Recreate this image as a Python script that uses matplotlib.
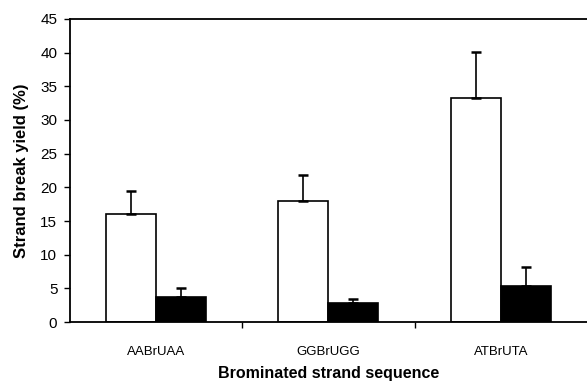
import numpy as np
import matplotlib.pyplot as plt

plt.rcParams['font.family'] = ['Liberation Sans', 'DejaVu Sans']

sequences = ['AABrUAA', 'GGBrUGG', 'ATBrUTA']
white_yield = [16.0, 18.0, 33.3]
white_err = [3.5, 3.8, 6.8]
black_yield = [3.7, 2.8, 5.3]
black_err = [1.3, 0.7, 2.9]
y_ticks = [0, 5, 10, 15, 20, 25, 30, 35, 40, 45]

fig = plt.figure(figsize=(5.87, 3.84), dpi=100)
ax = fig.add_axes([0.119, 0.161, 0.881, 0.79])

x = np.arange(len(sequences))
width = 0.29
zeros = [0] * len(sequences)

ax.bar(x - width / 2, white_yield, width, color='white', edgecolor='black', linewidth=1.2,
       yerr=[zeros, white_err], error_kw=dict(ecolor='black', elinewidth=1.2, capsize=3.5, capthick=1.8))
ax.bar(x + width / 2, black_yield, width, color='black', edgecolor='black', linewidth=1.2,
       yerr=[zeros, black_err], error_kw=dict(ecolor='black', elinewidth=1.2, capsize=3.5, capthick=1.8))

ax.set_xlim(-0.5, 2.5)
ax.set_ylim(0, 45)
ax.set_yticks(y_ticks)
ax.tick_params(axis='y', labelsize=11, length=4, direction='out', width=1, pad=5)

ax.set_xticks([0.5, 1.5])
ax.set_xticklabels(['', ''])
ax.set_xticks(x, minor=True)
ax.set_xticklabels(sequences, minor=True, fontsize=9.5)
ax.tick_params(axis='x', which='major', length=4, direction='out', width=1)
ax.tick_params(axis='x', which='minor', length=0, pad=17)

ax.spines['right'].set_visible(False)
for s in ['left', 'top', 'bottom']:
    ax.spines[s].set_linewidth(1.3)

ax.set_ylabel('Strand break yield (%)', fontsize=12, fontweight='bold', labelpad=8)
ax.set_xlabel('Brominated strand sequence', fontsize=11.5, fontweight='bold')
ax.xaxis.set_label_coords(0.5, -0.145)

fig.savefig('out.png', dpi=100)
